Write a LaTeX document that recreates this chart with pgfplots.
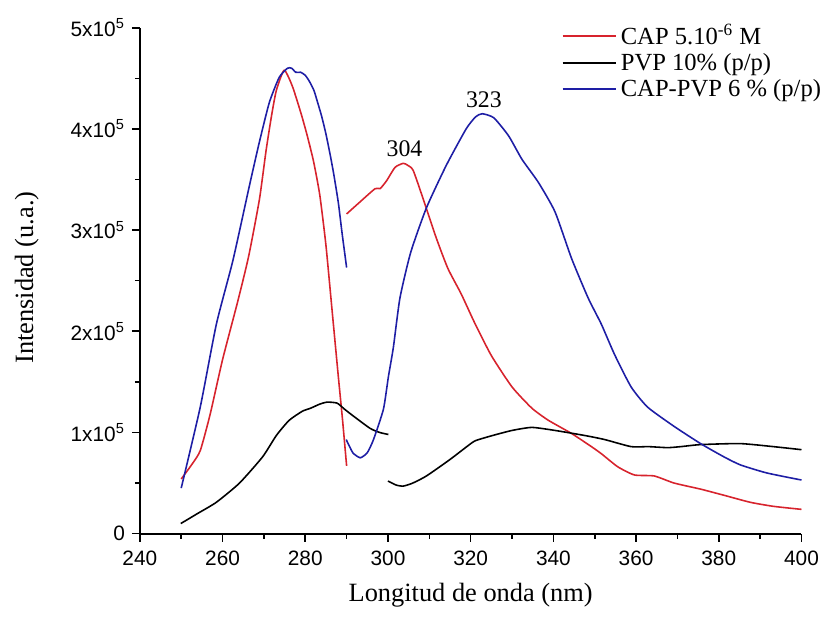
\documentclass[border=0pt]{standalone}
\usepackage{pgfplots}
\pgfplotsset{compat=1.18}
\usepackage{fontspec}
\setmainfont{Liberation Serif}
\newfontfamily\sansf{Liberation Sans}
\definecolor{capred}{RGB}{215,35,45}
\definecolor{pvpblue}{RGB}{30,30,165}

\begin{document}
\begin{tikzpicture}
\begin{axis}[
    scale only axis,
    width=333.5pt, height=255pt,
    xmin=240, xmax=400,
    ymin=0, ymax=5,
    axis lines*=left,
    axis line style={line width=1pt},
    clip=false,
    unbounded coords=jump,
    xtick={240,260,...,400},
    xticklabels={240,260,280,300,320,340,360,380,400},
    minor x tick num=1,
    ytick={0,1,2,3,4,5},
    yticklabels={0,1x10\textsuperscript{5},2x10\textsuperscript{5},3x10\textsuperscript{5},4x10\textsuperscript{5},5x10\textsuperscript{5}},
    minor y tick num=1,
    tick align=outside,
    major tick length=4pt,
    minor tick length=2.5pt,
    tick style={black, line width=0.8pt},
    ticklabel style={font=\sansf\fontsize{10.5}{12}\selectfont},
    xticklabel style={yshift=-1pt},
    xlabel={Longitud de onda (nm)},
    ylabel={Intensidad (u.a.)},
    every axis x label/.style={at={(axis description cs:0.5,-0.1216)}, anchor=center, font=\fontsize{13.3}{15}\selectfont},
    every axis y label/.style={at={(axis description cs:-0.171,0.506)}, rotate=90, anchor=center, font=\fontsize{13.3}{15}\selectfont},
    legend style={at={(axis description cs:0.628,1.018)}, anchor=north west, draw=none, fill=none,
        font=\fontsize{12.4}{13}\selectfont, row sep=1.8pt,
        nodes={inner ysep=0.6pt}},
    legend cell align=left,
    legend image code/.code={\draw[#1, line width=0.8pt] (0pt,0pt) -- (27pt,0pt);},
    every axis plot/.append style={smooth, tension=0.35, line width=0.8pt},
]

\addplot[capred] coordinates {
(250,0.54) (252.5,0.68) (254.6,0.82) (257,1.18) (260,1.72) (263.7,2.30) (266.3,2.74)
(268.9,3.30) (270.5,3.78) (271.8,4.12) (273,4.38) (274.9,4.58) (276.9,4.42) (279,4.15)
(280.5,3.93) (282,3.68) (283.5,3.35) (285,2.85) (286.5,2.20) (288,1.55) (289,1.13) (290,0.67)
(290,nan)
(290,3.16) (293,3.27) (296.9,3.41) (298.1,3.41) (299.7,3.49) (301.7,3.62) (303.7,3.66)
(304.8,3.64) (306.1,3.59) (308.5,3.31) (311.7,2.92) (314.5,2.62) (317.7,2.37) (321,2.08)
(325,1.76) (330,1.45) (334.8,1.24) (338.8,1.12) (344.4,0.99) (349.2,0.86) (351.6,0.79)
(355.6,0.66) (359.6,0.58) (364.4,0.57) (369.2,0.50) (375.6,0.44) (381.2,0.38) (387.6,0.31)
(393.2,0.27) (400,0.24)
};
\addlegendentry{CAP 5.10\textsuperscript{-6} M}

\addplot[black] coordinates {
(249.9,0.10) (254,0.20) (258.5,0.31) (264.1,0.50) (269.7,0.76) (273,0.97) (276.1,1.12)
(279.3,1.21) (281.3,1.24) (283.5,1.28) (285.3,1.30) (287.7,1.29) (289.5,1.23) (291.7,1.16)
(295.7,1.04) (298,1.00) (300.1,0.98)
(300.1,nan)
(300,0.52) (302,0.48) (303.7,0.47) (306,0.50) (309.3,0.57) (314.9,0.73) (319.7,0.88)
(321.2,0.92) (325.3,0.97) (330,1.02) (334.8,1.05) (340.4,1.02) (347.6,0.97) (352.4,0.93)
(358.8,0.86) (363,0.86) (367.6,0.85) (370.8,0.86) (375.6,0.88) (385.2,0.89) (393.2,0.86)
(400,0.83)
};
\addlegendentry{PVP 10\% (p/p)}

\addplot[pvpblue] coordinates {
(250,0.45) (254.6,1.25) (258.5,2.07) (262.5,2.70) (266.5,3.44) (268.9,3.87)
(271.3,4.26) (273.7,4.51) (275.7,4.60) (276.7,4.60) (277.7,4.56) (278.9,4.56) (280,4.53)
(281,4.47) (282.1,4.38) (283,4.26) (284,4.12) (285,3.95) (286,3.75) (286.9,3.55) (288,3.27)
(288.9,2.97) (290,2.63)
(290,nan)
(289.9,0.93) (291.5,0.80) (293.3,0.75) (295,0.80) (296.5,0.93) (298.9,1.23) (300.1,1.55)
(301.3,1.84) (302.9,2.33) (305.5,2.78) (309.3,3.22) (314.1,3.64) (318.9,4.00) (321.2,4.12)
(322.8,4.15) (325.6,4.11) (329.2,3.93) (332.4,3.70) (336.4,3.47) (340.4,3.18) (344.4,2.72)
(348.4,2.33) (351.6,2.07) (354.8,1.77) (358.8,1.45) (362.8,1.25) (369.2,1.06) (375.6,0.89)
(381.2,0.76) (385.2,0.68) (391.6,0.60) (400,0.53)
};
\addlegendentry{CAP-PVP 6 \% (p/p)}

\node[font=\fontsize{12}{14}\selectfont] at (axis cs:304,3.80) {304};
\node[font=\fontsize{12}{14}\selectfont] at (axis cs:323.2,4.29) {323};

\path (rel axis cs:-0.2114,-0.1725) rectangle (rel axis cs:1.0345,1.0549);
\end{axis}
\end{tikzpicture}
\end{document}
